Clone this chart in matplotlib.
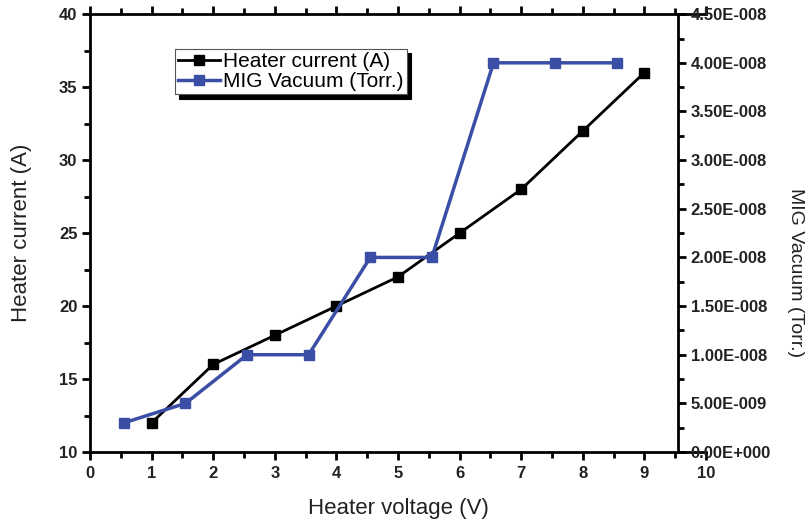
import matplotlib
matplotlib.use("Agg")
import matplotlib.pyplot as plt
from matplotlib.ticker import MultipleLocator, FuncFormatter

plt.rcParams['font.family'] = ['Liberation Sans', 'DejaVu Sans']

# Heater characteristics
voltage = [1, 2, 3, 4, 5, 6, 7, 8, 9]
current = [12, 16, 18, 20, 22, 25, 28, 32, 36]

vac_voltage = [0.55, 1.55, 2.55, 3.55, 4.55, 5.55, 6.55, 7.55, 8.55]
vacuum = [3e-9, 5e-9, 1e-8, 1e-8, 2e-8, 2e-8, 4e-8, 4e-8, 4e-8]

x_ticks = list(range(0, 11))
left_ticks = [10, 15, 20, 25, 30, 35, 40]

BLUE = '#3a4ea6'
LW_SPINE = 2.0
TICK_FS = 12
LABEL_FS = 16


def sci_label(v, pos=None):
    if v == 0:
        return '0.00E+000'
    s = f"{v:.2E}"
    mant, exp = s.split('E')
    sign = exp[0]
    digits = int(exp[1:])
    return f"{mant}E{sign}{digits:03d}"


fig = plt.figure(figsize=(8.12, 5.25), dpi=100)
ax = fig.add_axes([0.1108, 0.139, 0.7587, 0.834])

ax.plot(voltage, current, color='black', lw=2.0, marker='s', ms=6.5,
        label='Heater current (A)')
ax.set_xlim(0, 10)
ax.set_ylim(10, 40)
ax.set_xticks(x_ticks)
ax.set_yticks(left_ticks)
ax.xaxis.set_minor_locator(MultipleLocator(0.5))
ax.yaxis.set_minor_locator(MultipleLocator(2.5))

for side in ['left', 'bottom', 'top']:
    ax.spines[side].set_linewidth(LW_SPINE)
ax.spines['right'].set_visible(False)

ax.tick_params(axis='both', which='major', length=6, width=2.0,
               labelsize=TICK_FS, direction='out')
ax.tick_params(axis='both', which='minor', length=4, width=2.0, direction='out')
ax.tick_params(axis='x', which='both', top=True, labeltop=False)
for lbl in ax.get_xticklabels() + ax.get_yticklabels():
    lbl.set_fontweight('bold')
    lbl.set_color('#222222')
ax.tick_params(axis='x', pad=4)
ax.tick_params(axis='y', pad=3)

ax.set_xlabel('Heater voltage (V)', fontsize=LABEL_FS, color='#222222',
              va='center')
ax.xaxis.set_label_coords(0.5, -0.130)
ax.set_ylabel('Heater current (A)', fontsize=LABEL_FS, color='#222222',
              va='center')
ax.yaxis.set_label_coords(-0.111, 0.5)

ax2 = ax.twinx()
ax2.plot(vac_voltage, vacuum, color=BLUE, lw=2.5, marker='s', ms=6.5,
         label='MIG Vacuum (Torr.)')
ax2.set_ylim(0, 4.5e-8)
ax2.yaxis.set_major_locator(MultipleLocator(5e-9))
ax2.yaxis.set_minor_locator(MultipleLocator(2.5e-9))
ax2.yaxis.set_major_formatter(FuncFormatter(sci_label))
for side in ['left', 'bottom', 'top']:
    ax2.spines[side].set_visible(False)
ax2.spines['right'].set_position(('data', 9.55))
ax2.spines['right'].set_linewidth(LW_SPINE)
ax2.tick_params(axis='y', which='major', length=6, width=2.0,
                labelsize=TICK_FS, direction='out', pad=3)
ax2.tick_params(axis='y', which='minor', length=4, width=2.0, direction='out')
for lbl in ax2.get_yticklabels():
    lbl.set_fontweight('bold')
    lbl.set_color('#222222')
ax2.set_ylabel('MIG Vacuum (Torr.)', fontsize=14, rotation=-90,
               color='#222222', va='center')
ax2.yaxis.set_label_coords(1.145, 0.41)

h1, l1 = ax.get_legend_handles_labels()
h2, l2 = ax2.get_legend_handles_labels()
leg = ax2.legend(h1 + h2, l1 + l2, loc='upper left',
                 bbox_to_anchor=(0.138, 0.92), borderaxespad=0,
                 fontsize=15, frameon=True, fancybox=False,
                 shadow={'color': 'black', 'alpha': 1.0, 'ox': 3, 'oy': -3},
                 handlelength=2.0, handletextpad=0.15, borderpad=0.15,
                 labelspacing=0.05)
leg.get_frame().set_edgecolor('#555555')
leg.get_frame().set_linewidth(0.8)

fig.savefig('out.png', dpi=100)
